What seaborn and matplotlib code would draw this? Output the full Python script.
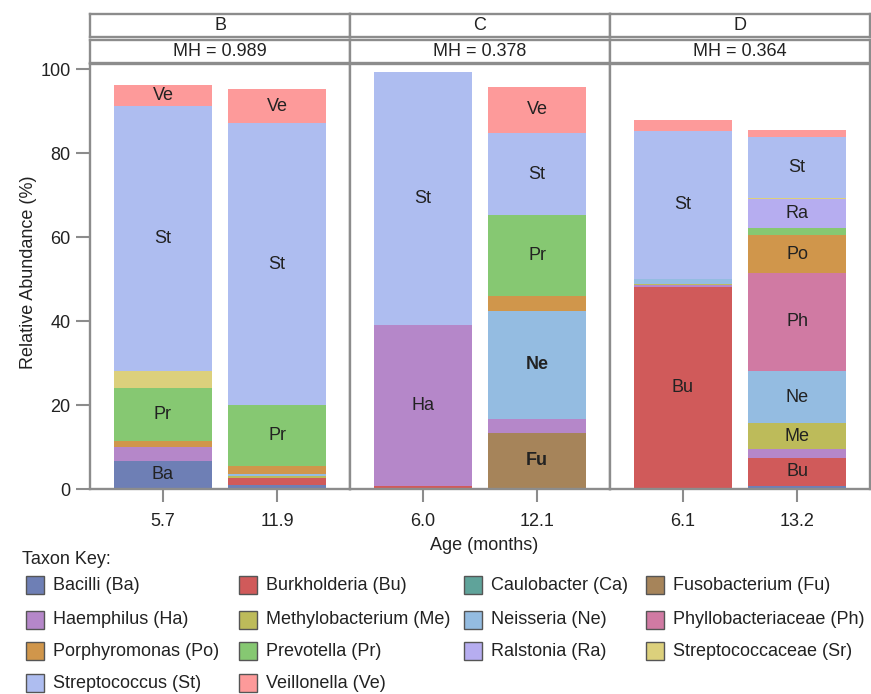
import numpy as np
import pandas as pd
import matplotlib
matplotlib.use("Agg")
import matplotlib.pyplot as plt
from matplotlib.patches import Rectangle
import seaborn as sns

# ---------------- data ----------------
taxa_codes = ["Ba", "Bu", "Ca", "Fu", "Ha", "Me", "Ne", "Ph", "Po", "Pr", "Ra", "Sr", "St", "Ve"]
taxa_names = ["Bacilli", "Burkholderia", "Caulobacter", "Fusobacterium", "Haemphilus",
              "Methylobacterium", "Neisseria", "Phyllobacteriaceae", "Porphyromonas",
              "Prevotella", "Ralstonia", "Streptococcaceae", "Streptococcus", "Veillonella"]
taxa_colors = ["#6e7fb5", "#d05a5a", "#5fa39a", "#a6845a", "#b587c9", "#bdbb5a", "#94bce1",
               "#d07aa3", "#d0964b", "#86c872", "#b6adf0", "#dcd07c", "#aebdf0", "#fd9a9a"]

panels = ["B", "C", "D"]
panel_mh = ["MH = 0.989", "MH = 0.378", "MH = 0.364"]
sample_panel = ["B", "B", "C", "C", "D", "D"]
sample_age = ["5.7", "11.9", "6.0", "12.1", "6.1", "13.2"]

Ba = [6.7, 0.9, 0.0, 0.0, 0.0, 0.8]
Bu = [0.0, 1.7, 0.8, 0.0, 48.2, 6.5]
Ca = [0.0, 0.0, 0.0, 0.0, 0.0, 0.0]
Fu = [0.0, 0.0, 0.0, 13.4, 0.0, 0.2]
Ha = [3.3, 0.0, 38.2, 3.3, 0.3, 2.0]
Me = [0.0, 0.5, 0.0, 0.0, 0.3, 6.1]
Ne = [0.0, 0.5, 0.0, 25.8, 1.2, 12.6]
Ph = [0.0, 0.0, 0.0, 0.0, 0.0, 23.2]
Po = [1.4, 1.9, 0.0, 3.5, 0.0, 9.1]
Pr = [12.7, 14.4, 0.0, 19.2, 0.0, 1.7]
Ra = [0.0, 0.0, 0.0, 0.0, 0.0, 6.8]
Sr = [4.1, 0.0, 0.0, 0.0, 0.0, 0.3]
St = [63.0, 67.2, 60.4, 19.5, 35.3, 14.6]
Ve = [4.9, 8.1, 0.0, 11.1, 2.6, 1.5]
values = [Ba, Bu, Ca, Fu, Ha, Me, Ne, Ph, Po, Pr, Ra, Sr, St, Ve]

bold_labels = {("12.1", "Ne"), ("12.1", "Fu")}
label_min = 4.5

# ---------------- long table ----------------
rows = []
for code, vals in zip(taxa_codes, values):
    for p, a, v in zip(sample_panel, sample_age, vals):
        rows.append({"panel": p, "age": a, "taxon": code, "value": v})
df = pd.DataFrame(rows)
df["taxon"] = pd.Categorical(df["taxon"], taxa_codes, ordered=True)
df = df.sort_values(["panel", "age", "taxon"])
df["top"] = df.groupby(["panel", "age"], sort=False)["value"].cumsum()
df["bottom"] = df["top"] - df["value"]

# ---------------- style ----------------
sns.set_style("white")
plt.rcParams["font.family"] = ["Liberation Sans", "DejaVu Sans"]
FS = 13
GREY = "#8c8c8c"
TXT = "#222222"

W, H = 871, 694
fig = plt.figure(figsize=(W / 100, H / 100), dpi=100)


def fx(px):
    return px / W


def fy(py):
    return 1 - py / H


panel_left = [90, 350, 610]
panel_w = 260
plot_top, plot_bot = 64, 489

for i, p in enumerate(panels):
    left = panel_left[i]
    ax = fig.add_axes([fx(left), fy(plot_bot), fx(panel_w), (plot_bot - plot_top) / H])
    dp = df[df["panel"] == p]
    ages = [a for a, pp in zip(sample_age, sample_panel) if pp == p]
    # draw cumulative bars from top layer down so each layer shows its own segment
    for code, col in reversed(list(zip(taxa_codes, taxa_colors))):
        sub = dp[dp["taxon"] == code]
        sns.barplot(data=sub, x="age", y="top", order=ages, color=col, saturation=1,
                    width=0.86, errorbar=None, linewidth=0, ax=ax)
    # segment labels
    for _, r in dp.iterrows():
        if r["value"] >= label_min:
            xi = ages.index(r["age"])
            bold = (r["age"], r["taxon"]) in bold_labels
            ax.text(xi, (r["top"] + r["bottom"]) / 2, r["taxon"], ha="center", va="center",
                    fontsize=FS, color=TXT, fontweight="bold" if bold else "normal")
    ax.set_xlim(-0.64, 1.64)
    ax.set_ylim(0, 101.2)
    ax.set_xlabel("")
    ax.set_ylabel("")
    for s in ax.spines.values():
        s.set_color(GREY)
        s.set_linewidth(1.7)
        s.set_visible(True)
    ax.tick_params(axis="x", length=9, width=1.5, color=GREY, labelsize=FS,
                   labelcolor=TXT, pad=8, direction="out", bottom=True)
    if i == 0:
        ax.set_yticks([0, 20, 40, 60, 80, 100])
        ax.tick_params(axis="y", length=10, width=1.5, color=GREY, labelsize=FS,
                       labelcolor=TXT, pad=4, direction="out", left=True)
        ax.set_ylabel("Relative Abundance (%)", fontsize=FS, color=TXT)
        ax.yaxis.set_label_coords((37 - 90) / panel_w, (plot_bot - 272) / (plot_bot - plot_top))
    else:
        ax.set_yticks([])

    # strips
    for (y0, y1), lab in [((14, 37), p), ((40, 63), panel_mh[i])]:
        sax = fig.add_axes([fx(left), fy(y1), fx(panel_w), (y1 - y0) / H])
        sax.set_xticks([])
        sax.set_yticks([])
        sax.set_facecolor("white")
        for s in sax.spines.values():
            s.set_color(GREY)
            s.set_linewidth(1.7)
        sax.text(0.5, 0.5, lab, ha="center", va="center", fontsize=FS, color=TXT,
                 transform=sax.transAxes)

fig.text(fx(484), fy(546), "Age (months)", ha="center", va="center", fontsize=FS, color=TXT)

# ---------------- legend ----------------
fig.text(fx(22), fy(560), "Taxon Key:", ha="left", va="center", fontsize=FS, color=TXT)
col_x = [26, 239, 464, 646]
row_y = [585, 620, 651, 683]
sw = 18
for k, (code, name, col) in enumerate(zip(taxa_codes, taxa_names, taxa_colors)):
    r, c = divmod(k, 4)
    x0, yc = col_x[c], row_y[r]
    fig.patches.append(Rectangle((fx(x0), fy(yc + sw / 2)), fx(sw), sw / H,
                                 transform=fig.transFigure, facecolor=col,
                                 edgecolor="#555555", linewidth=1.0))
    fig.text(fx(x0 + 27), fy(yc), f"{name} ({code})", ha="left", va="center",
             fontsize=FS, color=TXT)

fig.savefig("out.png", dpi=100)
